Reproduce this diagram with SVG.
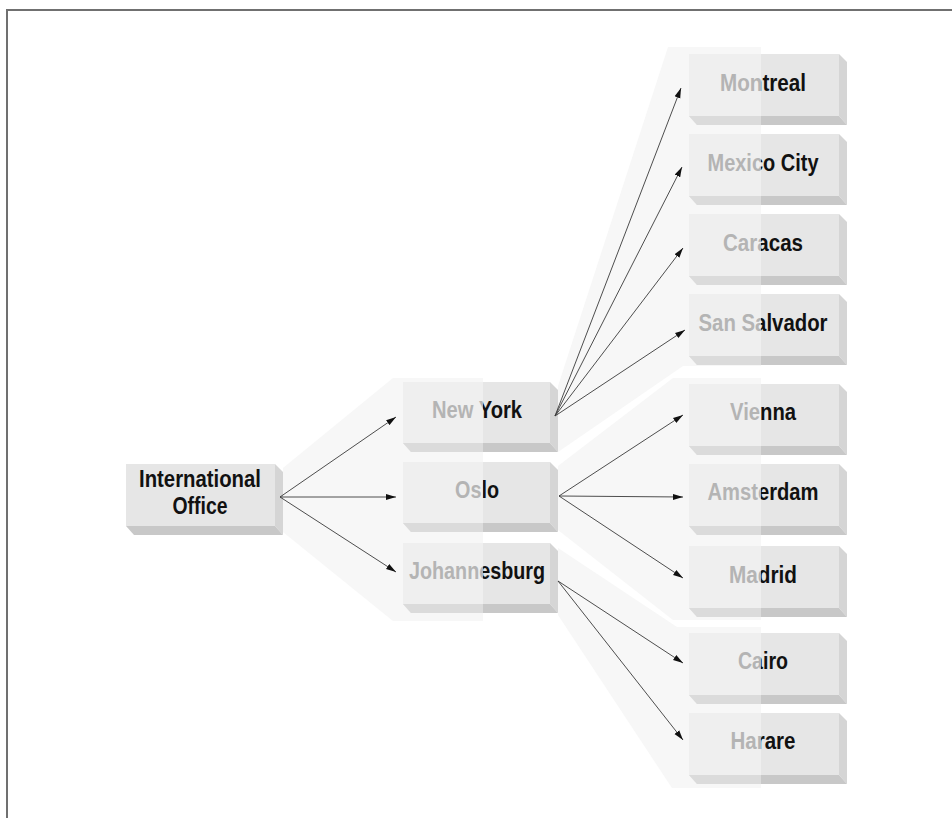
<svg xmlns="http://www.w3.org/2000/svg" width="952" height="818" viewBox="0 0 952 818">
  <style>
    .frame{fill:none;stroke:#707070;stroke-width:2}
    .fan{fill:#f7f7f7}
    .face{fill:#e6e6e6}
    .side{fill:#d5d5d5}
    .base{fill:#c8c8c8}
    .lite{fill:#ffffff;fill-opacity:0.35}
    .lbl{font-family:"Liberation Sans",Arial,sans-serif;font-weight:bold;font-size:23px;text-anchor:middle;fill:#111}
    .dim{fill:#b4b4b4}
    .wire{fill:none;stroke:#3a3a3a;stroke-width:0.9;marker-end:url(#tip)}
  </style>
  <defs>
    <marker id="tip" markerUnits="userSpaceOnUse" markerWidth="10" markerHeight="7" refX="10" refY="3.5" orient="auto">
      <path d="M0,0.5 L10,3.5 L0,6.5 Z" fill="#111"/>
    </marker>
    <!-- left (washed-out) and right halves of the two target columns -->
    <clipPath id="ml" clipPathUnits="userSpaceOnUse"><rect x="380" y="370" width="103" height="260"/></clipPath>
    <clipPath id="mr" clipPathUnits="userSpaceOnUse"><rect x="483" y="370" width="100" height="260"/></clipPath>
    <clipPath id="rl" clipPathUnits="userSpaceOnUse"><rect x="670" y="40" width="91" height="760"/></clipPath>
    <clipPath id="rr" clipPathUnits="userSpaceOnUse"><rect x="761" y="40" width="100" height="760"/></clipPath>
  </defs>

  <rect width="952" height="818" fill="#ffffff"/>
  <path class="frame" d="M7,818 V10 H952"/>

  <!-- fan backdrops behind each fan-out -->
  <g id="fans">
    <polygon class="fan" points="283,468 393,378 483,378 483,621 393,621 283,532"/>
    <polygon class="fan" points="558,386 668,47 761,47 761,366 683,366 558,452"/>
    <polygon class="fan" points="558,466 673,378 761,378 761,620 673,620 558,530"/>
    <polygon class="fan" points="558,548 677,627 761,627 761,788 672,788 558,615"/>
  </g>

  <!-- root -->
  <g id="international-office">
    <rect class="face" x="126" y="464" width="149" height="62"/>
    <polygon class="side" points="275,464 283,472 283,535 275,526"/>
    <polygon class="base" points="126,526 275,526 283,535 134,535"/>
    <text class="lbl" x="200" y="487" font-size="22" textLength="122" lengthAdjust="spacingAndGlyphs">International</text>
    <text class="lbl" x="200" y="514" font-size="22" textLength="55" lengthAdjust="spacingAndGlyphs">Office</text>
  </g>

  <!-- regional offices -->
  <g id="new-york">
    <rect class="face" x="403" y="382" width="147" height="61"/>
    <polygon class="side" points="550,382 558,390 558,452 550,443"/>
    <polygon class="base" points="403,443 550,443 558,452 411,452"/>
    <polygon class="lite" points="403,382 483,382 483,452 411,452 403,443"/>
    <text class="lbl dim" clip-path="url(#ml)" x="477" y="418" textLength="90" lengthAdjust="spacingAndGlyphs">New York</text>
    <text class="lbl" clip-path="url(#mr)" x="477" y="418" textLength="90" lengthAdjust="spacingAndGlyphs">New York</text>
  </g>
  <g id="oslo">
    <rect class="face" x="403" y="462" width="147" height="61"/>
    <polygon class="side" points="550,462 558,470 558,532 550,523"/>
    <polygon class="base" points="403,523 550,523 558,532 411,532"/>
    <polygon class="lite" points="403,462 483,462 483,532 411,532 403,523"/>
    <text class="lbl dim" clip-path="url(#ml)" x="477" y="498" textLength="44" lengthAdjust="spacingAndGlyphs">Oslo</text>
    <text class="lbl" clip-path="url(#mr)" x="477" y="498" textLength="44" lengthAdjust="spacingAndGlyphs">Oslo</text>
  </g>
  <g id="johannesburg">
    <rect class="face" x="403" y="543" width="147" height="61"/>
    <polygon class="side" points="550,543 558,551 558,613 550,604"/>
    <polygon class="base" points="403,604 550,604 558,613 411,613"/>
    <polygon class="lite" points="403,543 483,543 483,613 411,613 403,604"/>
    <text class="lbl dim" clip-path="url(#ml)" x="477" y="579" textLength="136" lengthAdjust="spacingAndGlyphs">Johannesburg</text>
    <text class="lbl" clip-path="url(#mr)" x="477" y="579" textLength="136" lengthAdjust="spacingAndGlyphs">Johannesburg</text>
  </g>

  <!-- branch offices -->
  <g id="montreal">
    <rect class="face" x="689" y="54" width="150" height="62"/>
    <polygon class="side" points="839,54 847,62 847,125 839,116"/>
    <polygon class="base" points="689,116 839,116 847,125 697,125"/>
    <polygon class="lite" points="689,54 761,54 761,125 697,125 689,116"/>
    <text class="lbl dim" clip-path="url(#rl)" x="763" y="91" textLength="86" lengthAdjust="spacingAndGlyphs">Montreal</text>
    <text class="lbl" clip-path="url(#rr)" x="763" y="91" textLength="86" lengthAdjust="spacingAndGlyphs">Montreal</text>
  </g>
  <g id="mexico-city">
    <rect class="face" x="689" y="134" width="150" height="62"/>
    <polygon class="side" points="839,134 847,142 847,205 839,196"/>
    <polygon class="base" points="689,196 839,196 847,205 697,205"/>
    <polygon class="lite" points="689,134 761,134 761,205 697,205 689,196"/>
    <text class="lbl dim" clip-path="url(#rl)" x="763" y="171" textLength="111" lengthAdjust="spacingAndGlyphs">Mexico City</text>
    <text class="lbl" clip-path="url(#rr)" x="763" y="171" textLength="111" lengthAdjust="spacingAndGlyphs">Mexico City</text>
  </g>
  <g id="caracas">
    <rect class="face" x="689" y="214" width="150" height="62"/>
    <polygon class="side" points="839,214 847,222 847,285 839,276"/>
    <polygon class="base" points="689,276 839,276 847,285 697,285"/>
    <polygon class="lite" points="689,214 761,214 761,285 697,285 689,276"/>
    <text class="lbl dim" clip-path="url(#rl)" x="763" y="251" textLength="80" lengthAdjust="spacingAndGlyphs">Caracas</text>
    <text class="lbl" clip-path="url(#rr)" x="763" y="251" textLength="80" lengthAdjust="spacingAndGlyphs">Caracas</text>
  </g>
  <g id="san-salvador">
    <rect class="face" x="689" y="294" width="150" height="62"/>
    <polygon class="side" points="839,294 847,302 847,365 839,356"/>
    <polygon class="base" points="689,356 839,356 847,365 697,365"/>
    <polygon class="lite" points="689,294 761,294 761,365 697,365 689,356"/>
    <text class="lbl dim" clip-path="url(#rl)" x="763" y="331" textLength="129" lengthAdjust="spacingAndGlyphs">San Salvador</text>
    <text class="lbl" clip-path="url(#rr)" x="763" y="331" textLength="129" lengthAdjust="spacingAndGlyphs">San Salvador</text>
  </g>
  <g id="vienna">
    <rect class="face" x="689" y="384" width="150" height="62"/>
    <polygon class="side" points="839,384 847,392 847,455 839,446"/>
    <polygon class="base" points="689,446 839,446 847,455 697,455"/>
    <polygon class="lite" points="689,384 761,384 761,455 697,455 689,446"/>
    <text class="lbl dim" clip-path="url(#rl)" x="763" y="420" textLength="66" lengthAdjust="spacingAndGlyphs">Vienna</text>
    <text class="lbl" clip-path="url(#rr)" x="763" y="420" textLength="66" lengthAdjust="spacingAndGlyphs">Vienna</text>
  </g>
  <g id="amsterdam">
    <rect class="face" x="689" y="464" width="150" height="62"/>
    <polygon class="side" points="839,464 847,472 847,535 839,526"/>
    <polygon class="base" points="689,526 839,526 847,535 697,535"/>
    <polygon class="lite" points="689,464 761,464 761,535 697,535 689,526"/>
    <text class="lbl dim" clip-path="url(#rl)" x="763" y="500" textLength="111" lengthAdjust="spacingAndGlyphs">Amsterdam</text>
    <text class="lbl" clip-path="url(#rr)" x="763" y="500" textLength="111" lengthAdjust="spacingAndGlyphs">Amsterdam</text>
  </g>
  <g id="madrid">
    <rect class="face" x="689" y="546" width="150" height="62"/>
    <polygon class="side" points="839,546 847,554 847,617 839,608"/>
    <polygon class="base" points="689,608 839,608 847,617 697,617"/>
    <polygon class="lite" points="689,546 761,546 761,617 697,617 689,608"/>
    <text class="lbl dim" clip-path="url(#rl)" x="763" y="583" textLength="68" lengthAdjust="spacingAndGlyphs">Madrid</text>
    <text class="lbl" clip-path="url(#rr)" x="763" y="583" textLength="68" lengthAdjust="spacingAndGlyphs">Madrid</text>
  </g>
  <g id="cairo">
    <rect class="face" x="689" y="633" width="150" height="62"/>
    <polygon class="side" points="839,633 847,641 847,704 839,695"/>
    <polygon class="base" points="689,695 839,695 847,704 697,704"/>
    <polygon class="lite" points="689,633 761,633 761,704 697,704 689,695"/>
    <text class="lbl dim" clip-path="url(#rl)" x="763" y="669" textLength="50" lengthAdjust="spacingAndGlyphs">Cairo</text>
    <text class="lbl" clip-path="url(#rr)" x="763" y="669" textLength="50" lengthAdjust="spacingAndGlyphs">Cairo</text>
  </g>
  <g id="harare">
    <rect class="face" x="689" y="713" width="150" height="62"/>
    <polygon class="side" points="839,713 847,721 847,784 839,775"/>
    <polygon class="base" points="689,775 839,775 847,784 697,784"/>
    <polygon class="lite" points="689,713 761,713 761,784 697,784 689,775"/>
    <text class="lbl dim" clip-path="url(#rl)" x="763" y="749" textLength="65" lengthAdjust="spacingAndGlyphs">Harare</text>
    <text class="lbl" clip-path="url(#rr)" x="763" y="749" textLength="65" lengthAdjust="spacingAndGlyphs">Harare</text>
  </g>

  <!-- connectors -->
  <g id="connectors">
    <line class="wire" x1="280" y1="497" x2="396" y2="417"/>
    <line class="wire" x1="280" y1="497" x2="396" y2="497"/>
    <line class="wire" x1="280" y1="497" x2="396" y2="572"/>

    <line class="wire" x1="555" y1="416" x2="681" y2="88"/>
    <line class="wire" x1="555" y1="416" x2="682" y2="167"/>
    <line class="wire" x1="555" y1="416" x2="683" y2="248"/>
    <line class="wire" x1="555" y1="416" x2="685" y2="330"/>

    <line class="wire" x1="559" y1="496" x2="683" y2="415"/>
    <line class="wire" x1="559" y1="496" x2="683" y2="497"/>
    <line class="wire" x1="559" y1="496" x2="683" y2="578"/>

    <line class="wire" x1="558" y1="581" x2="683" y2="663"/>
    <line class="wire" x1="558" y1="581" x2="683" y2="740"/>
  </g>
</svg>
